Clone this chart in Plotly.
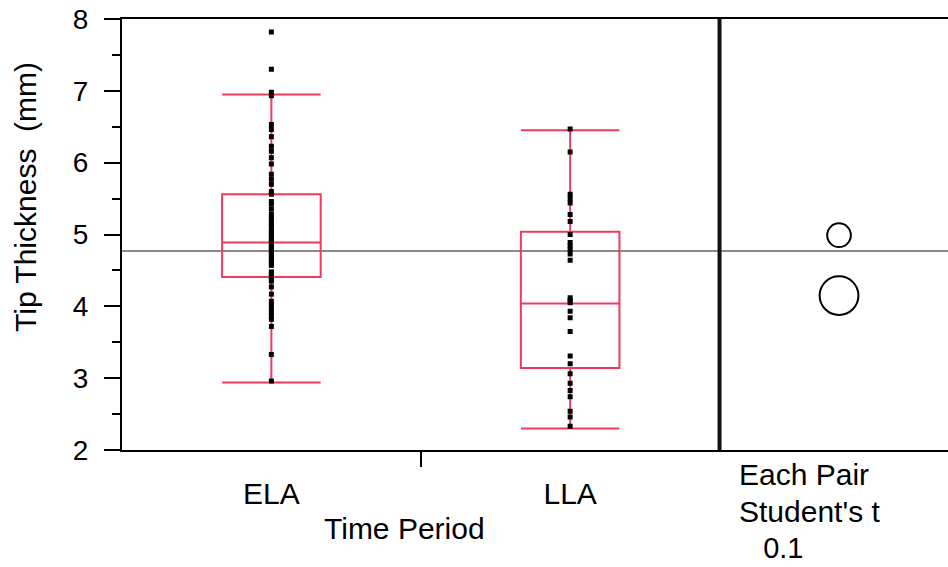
import plotly.graph_objects as go

# ---- data -------------------------------------------------------------
periods = ["ELA", "LLA"]

ela_values = [7.82, 7.30, 6.98, 6.93, 6.53, 6.46, 6.36, 6.23, 6.16, 6.07, 5.98,
              5.84, 5.77, 5.70, 5.60, 5.56, 5.46, 5.42, 5.35, 5.28, 5.24, 5.19,
              5.15, 5.11, 5.06, 5.03, 4.99, 4.96, 4.92, 4.90, 4.86, 4.83, 4.80,
              4.78, 4.74, 4.71, 4.67, 4.63, 4.60, 4.57, 4.48, 4.45, 4.41, 4.37,
              4.35, 4.27, 4.17, 4.07, 4.02, 3.97, 3.92, 3.87, 3.82, 3.72, 3.33,
              2.96]
lla_values = [6.47, 6.15, 5.56, 5.50, 5.44, 5.28, 5.18, 5.00, 4.89, 4.84, 4.79,
              4.73, 4.64, 4.12, 4.08, 4.05, 3.93, 3.84, 3.65, 3.31, 3.20, 3.06,
              2.93, 2.83, 2.74, 2.54, 2.46, 2.33]

q1 = [4.41, 3.14]
median = [4.89, 4.04]
q3 = [5.56, 5.04]
lower_fence = [2.94, 2.30]
upper_fence = [6.95, 6.45]

group_means = [4.99, 4.15]
circle_radius = [0.165, 0.27]
grand_mean = 4.77

y_range = [2, 8]
compare_lines = ["Each Pair", "Student's t", "\u00a0\u00a0\u00a00.1"]

# ---- layout geometry --------------------------------------------------
W, H = 948, 567
M_L, M_R, M_T, M_B = 122, 0, 19, 117
split = 0.7234  # boundary between box-plot panel and comparison panel
plot_w = W - M_L - M_R
plot_h = H - M_T - M_B
px_per_y = plot_h / (y_range[1] - y_range[0])
panel2_px = (1 - split) * plot_w
circle_x = 0.523

BOX_COLOR = "#EF3A5E"
FONT = "Liberation Sans, Arial, sans-serif"
LABEL_SIZE = 30
TICK_SIZE = 28

fig = go.Figure()

fig.add_trace(go.Box(
    x=[0, 1], q1=q1, median=median, q3=q3,
    lowerfence=lower_fence, upperfence=upper_fence,
    width=0.33, whiskerwidth=1,
    line=dict(color=BOX_COLOR, width=2),
    fillcolor="rgba(0,0,0,0)",
    boxpoints=False, hoverinfo="skip", showlegend=False,
))

for i, vals in enumerate([ela_values, lla_values]):
    fig.add_trace(go.Scatter(
        x=[i] * len(vals), y=vals, mode="markers",
        marker=dict(symbol="square", size=5, color="black", line=dict(width=0)),
        hoverinfo="skip", showlegend=False,
    ))

# invisible anchor trace for the comparison panel
fig.add_trace(go.Scatter(x=[circle_x], y=[grand_mean], xaxis="x2", yaxis="y",
                         mode="markers", marker=dict(opacity=0),
                         hoverinfo="skip", showlegend=False))

shapes = []
# grand mean line across both panels
shapes.append(dict(type="line", xref="paper", yref="y", x0=0, x1=1,
                   y0=grand_mean, y1=grand_mean,
                   line=dict(color="#8A8A8A", width=2), layer="below"))
# comparison circles (radius in y units, kept round in pixels)
for m, r in zip(group_means, circle_radius):
    rx = r * px_per_y / panel2_px
    shapes.append(dict(type="circle", xref="x2", yref="y",
                       x0=circle_x - rx, x1=circle_x + rx, y0=m - r, y1=m + r,
                       line=dict(color="black", width=2)))
# panel separator
shapes.append(dict(type="line", xref="paper", yref="paper", x0=split, x1=split,
                   y0=0, y1=1, line=dict(color="#111111", width=4)))

annotations = [
    dict(text="Tip Thickness  (mm)", textangle=-90, xref="paper", yref="paper",
         x=0, y=(H - M_B - 197) / plot_h, xshift=-97, xanchor="center",
         yanchor="middle", showarrow=False,
         font=dict(size=LABEL_SIZE, color="black", family=FONT)),
    dict(text="Time Period", xref="paper", yref="paper",
         x=(404 - M_L) / plot_w, y=0, yshift=-60, xanchor="center", yanchor="top",
         showarrow=False, font=dict(size=LABEL_SIZE, color="black", family=FONT)),
]
# comparison-method caption under the right panel, one line per annotation
for k, line in enumerate(compare_lines):
    annotations.append(dict(
        text=line, xref="paper", yref="paper", align="left",
        x=(737 - M_L) / plot_w, y=0, yshift=-6 - 37 * k,
        xanchor="left", yanchor="top", showarrow=False,
        font=dict(size=29 if k == 2 else LABEL_SIZE, color="black", family=FONT)))

fig.update_layout(
    width=W, height=H,
    margin=dict(l=M_L, r=M_R, t=M_T, b=M_B),
    paper_bgcolor="white", plot_bgcolor="white",
    font=dict(family=FONT, color="black"),
    shapes=shapes, annotations=annotations,
    xaxis=dict(domain=[0, split], range=[-0.5, 1.5], tickvals=[0, 1],
               ticktext=periods, ticks="", ticklabelstandoff=16,
               tickfont=dict(size=LABEL_SIZE), showgrid=False, zeroline=False,
               showline=True, linecolor="black", linewidth=2, mirror=True,
               minor=dict(tickvals=[0.5], ticks="outside", ticklen=15,
                          tickwidth=2, tickcolor="black", showgrid=False)),
    xaxis2=dict(domain=[split, 1], range=[0, 1], anchor="y",
                showticklabels=False, ticks="", showgrid=False, zeroline=False,
                showline=True, linecolor="black", linewidth=2, mirror=True),
    yaxis=dict(range=y_range, dtick=1, ticks="outside", ticklen=16, tickwidth=2,
               tickcolor="black", tickfont=dict(size=TICK_SIZE), ticklabelstandoff=10,
               showgrid=False, zeroline=False, showline=True, linecolor="black",
               linewidth=2,
               minor=dict(dtick=0.5, ticks="outside", ticklen=8, tickwidth=2,
                          tickcolor="black", showgrid=False)),
    showlegend=False,
)

fig.write_html("out.html")
